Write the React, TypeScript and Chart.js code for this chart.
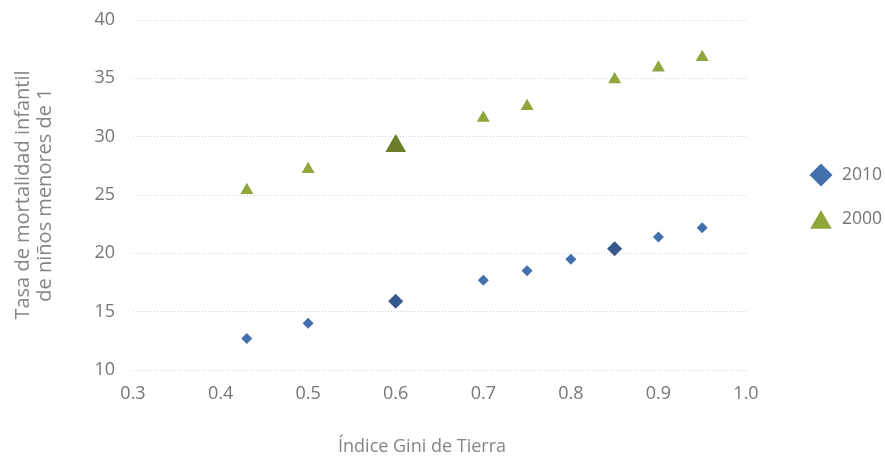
import React, { useEffect, useRef } from "react";
import { Chart, registerables } from "chart.js";
import { drawPoint } from "chart.js/helpers";

Chart.register(...registerables);

const giniIndex = [0.43, 0.5, 0.6, 0.7, 0.75, 0.8, 0.85, 0.9, 0.95];
const mortality2010 = [12.7, 14.0, 15.9, 17.7, 18.5, 19.5, 20.4, 21.4, 22.2];
const giniIndex2000 = [0.43, 0.5, 0.6, 0.7, 0.75, 0.85, 0.9, 0.95];
const mortality2000 = [25.4, 27.2, 29.2, 31.6, 32.6, 34.9, 35.9, 36.8];
const highlighted2010 = [0.6, 0.85];
const highlighted2000 = [0.6];
const seriesLabels = ["2010", "2000"];
const xTitle = "Índice Gini de Tierra";
const yTitle = ["Tasa de mortalidad infantil", "de niños menores de 1"];

const BLUE = "#4170ad";
const BLUE_DARK = "#35598c";
const GREEN = "#8fa63a";
const GREEN_DARK = "#6b7e2a";

const legendPlugin = {
  id: "sideLegend",
  afterDraw(chart: any) {
    const ctx = chart.ctx;
    const items = [
      { y: 175, textY: 175, style: "rectRot", radius: 11.5, color: BLUE },
      { y: 222.5, textY: 219, style: "triangle", radius: 12.5, color: GREEN },
    ];
    ctx.save();
    chart.data.datasets.forEach((ds: any, i: number) => {
      const it = items[i];
      ctx.fillStyle = it.color;
      ctx.strokeStyle = it.color;
      ctx.lineWidth = 0;
      drawPoint(ctx, { pointStyle: it.style, radius: it.radius, rotation: 0, borderWidth: 0 }, 821, it.y);
      ctx.fillStyle = "#767676";
      ctx.font = "17.5px 'Open Sans'";
      ctx.textAlign = "left";
      ctx.textBaseline = "middle";
      ctx.fillText(ds.label, 842, it.textY);
    });
    // x axis title
    ctx.fillStyle = "#858585";
    ctx.font = "18px 'Open Sans'";
    ctx.textAlign = "center";
    ctx.textBaseline = "middle";
    ctx.fillText(xTitle, 422, 447);
    ctx.restore();
  },
};

export default function App() {
  const ref = useRef<HTMLCanvasElement>(null);
  useEffect(() => {
    if (!ref.current) return;
    const d2010 = giniIndex.map((x, i) => ({ x, y: mortality2010[i] }));
    const d2000 = giniIndex2000.map((x, i) => ({ x, y: mortality2000[i] }));
    const chart = new Chart(ref.current, {
      type: "scatter",
      data: {
        datasets: [
          {
            label: seriesLabels[0],
            data: d2010,
            pointStyle: "rectRot",
            pointRadius: giniIndex.map((x) => (highlighted2010.includes(x) ? 7.5 : 5.5)),
            backgroundColor: giniIndex.map((x) => (highlighted2010.includes(x) ? BLUE_DARK : BLUE)),
            borderColor: giniIndex.map((x) => (highlighted2010.includes(x) ? BLUE_DARK : BLUE)),
            borderWidth: 0,
          },
          {
            label: seriesLabels[1],
            data: d2000,
            pointStyle: "triangle",
            pointRadius: giniIndex2000.map((x) => (highlighted2000.includes(x) ? 12 : 7.5)),
            backgroundColor: giniIndex2000.map((x) => (highlighted2000.includes(x) ? GREEN_DARK : GREEN)),
            borderColor: giniIndex2000.map((x) => (highlighted2000.includes(x) ? GREEN_DARK : GREEN)),
            borderWidth: 0,
          },
        ],
      },
      options: {
        responsive: false,
        animation: false,
        devicePixelRatio: 1,
        layout: { autoPadding: false, padding: { top: 20, right: 139, bottom: 0, left: 0 } },
        plugins: { legend: { display: false }, tooltip: { enabled: false } },
        scales: {
          x: {
            type: "linear",
            min: 0.3,
            max: 1.0,
            afterFit: (s: any) => {
              s.height = 90;
            },
            grid: { display: false, drawTicks: false },
            border: { display: false },
            ticks: {
              stepSize: 0.1,
              padding: 13,
              color: "#767676",
              font: { family: "'Open Sans'", size: 18 },
              callback: (v: any) => Number(v).toFixed(1),
            },
            title: { display: false },
          },
          y: {
            min: 10,
            max: 40,
            afterFit: (s: any) => {
              s.width = 133;
            },
            grid: {
              color: "#d0d0d0",
              lineWidth: 1,
              drawTicks: true,
              tickLength: 18,
              tickColor: "rgba(0,0,0,0)",
            },
            border: { display: false, dash: [1, 2] },
            ticks: {
              stepSize: 5,
              padding: 0,
              color: "#767676",
              font: { family: "'Open Sans'", size: 18 },
            },
            title: {
              display: true,
              text: yTitle,
              color: "#858585",
              font: { family: "'Open Sans'", size: 20, lineHeight: 1.1 },
              padding: { top: 12, bottom: 0 },
            },
          },
        },
      },
      plugins: [legendPlugin],
    });
    return () => chart.destroy();
  }, []);
  return (
    <div style={{ position: "absolute", left: 0, top: 0, width: 885, height: 460, background: "#fff" }}>
      <canvas ref={ref} width={885} height={460} style={{ display: "block" }} />
    </div>
  );
}
